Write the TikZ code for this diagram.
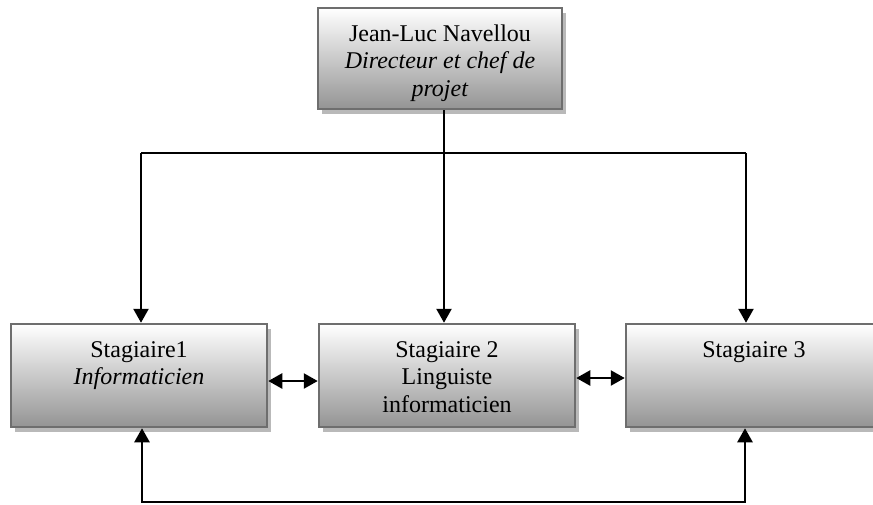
\documentclass[tikz,border=0pt]{standalone}
\usepackage{fontspec}
\setmainfont{Liberation Serif}
\usetikzlibrary{shadows,arrows.meta}

\definecolor{boxborder}{RGB}{110,110,110}
\definecolor{boxbottom}{RGB}{148,148,148}
\definecolor{boxshadow}{RGB}{185,185,185}

\tikzset{
  orgbox/.style={rectangle, draw=boxborder, line width=2.5pt,
    top color=white, bottom color=boxbottom,
    drop shadow={shadow xshift=4pt, shadow yshift=-5pt, fill=boxshadow, opacity=1},
    inner sep=0pt},
  boxtext/.style={anchor=north, align=center, inner sep=0pt,
    font=\fontsize{24}{27.6}\selectfont},
  link/.style={line width=2.5pt, draw=black},
  tip/.style={-{Triangle[length=14pt,width=15pt]}},
  tips/.style={{Triangle[length=14pt,width=15pt]}-{Triangle[length=14pt,width=15pt]}}
}

\begin{document}
\begin{tikzpicture}[x=1pt, y=-1pt]
  \useasboundingbox (0,0) rectangle (873,504);
  \clip (0,0) rectangle (873,504);

  % director box
  \node[orgbox, minimum width=244pt, minimum height=101pt] (dir) at (440,58.5) {};
  \node[boxtext] (dirtxt) at ([yshift=-17.5pt]dir.north)
    {Jean-Luc Navellou\\ \textit{Directeur et chef de}\\ \textit{projet}};

  % trainee boxes
  \node[orgbox, minimum width=256pt, minimum height=103pt] (s1) at (139,375.5) {};
  \node[orgbox, minimum width=256pt, minimum height=103pt] (s2) at (447,375.5) {};
  \node[orgbox, minimum width=256pt, minimum height=103pt] (s3) at (754,375.5) {};

  \node[boxtext] (s1txt) at ([yshift=-18.5pt]s1.north) {Stagiaire1\\ \textit{Informaticien}};
  \node[boxtext] (s2txt) at ([yshift=-18.5pt]s2.north) {Stagiaire 2\\ Linguiste\\ informaticien};
  \node[boxtext] (s3txt) at ([yshift=-18.5pt]s3.north) {Stagiaire 3};

  % junction points of the distribution line
  \coordinate (j)  at (444,153);
  \coordinate (t1) at (141,153);
  \coordinate (t2) at (444,153);
  \coordinate (t3) at (746,153);

  \draw[link] (dir.south -| j) -- (j);
  \draw[link] (t1) -- (t3);
  \draw[link, tip] (t1) -- (s1.north -| t1);
  \draw[link, tip] (t2) -- (s2.north -| t2);
  \draw[link, tip] (t3) -- (s3.north -| t3);

  % links between neighbouring trainees
  \coordinate (m12) at (293,381);
  \coordinate (m23) at (600,378);
  \draw[link, tips] (s1.east |- m12) -- (s2.west |- m12);
  \draw[link, tips] (s2.east |- m23) -- (s3.west |- m23);

  % loop between first and third trainee
  \coordinate (b1) at (142,502);
  \coordinate (b3) at (745,502);
  \draw[link, tips] (s1.south -| b1) -- (b1) -- (b3) -- (s3.south -| b3);
\end{tikzpicture}
\end{document}
